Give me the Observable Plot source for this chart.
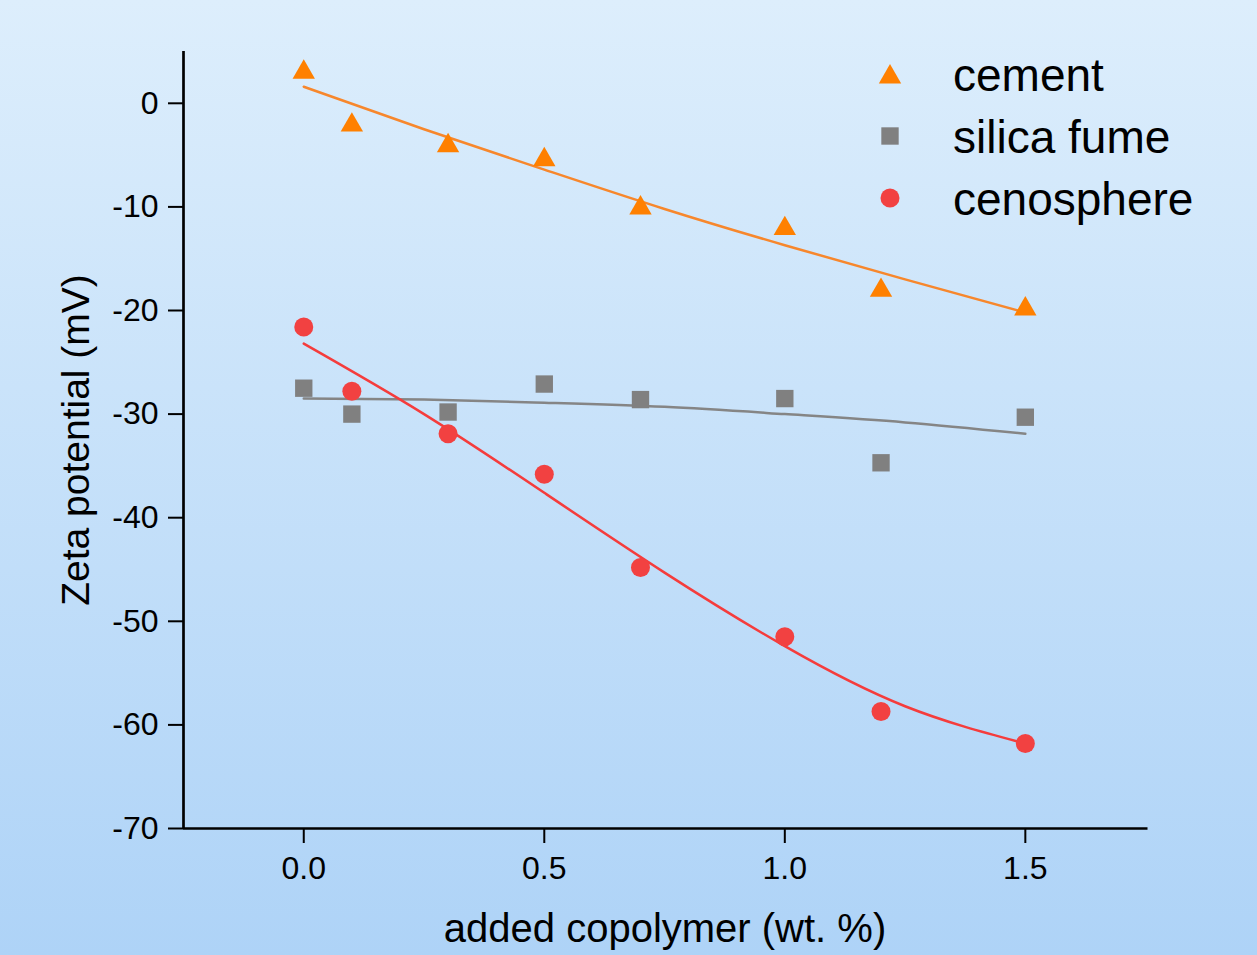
<!DOCTYPE html>
<html>
<head>
<meta charset="utf-8">
<script src="https://cdn.jsdelivr.net/npm/d3@7"></script>
<script src="https://cdn.jsdelivr.net/npm/@observablehq/plot@0.6"></script>
<style>
  html, body { margin: 0; padding: 0; }
  #fig {
    position: relative; width: 1257px; height: 955px; overflow: hidden;
    background: linear-gradient(to bottom, #ddeefc 0%, #aed3f7 100%);
    font-family: "Liberation Sans", Arial, Helvetica, sans-serif; color: #000;
  }
  #fig svg { position: absolute; left: 0; top: 0; }
</style>
</head>
<body>
<div id="fig"></div>
<script>
// ---- data ----
const dosage = [0, 0.1, 0.3, 0.5, 0.7, 1.0, 1.2, 1.5];
const cement = [3.0, -2.1, -4.1, -5.45, -10.1, -12.1, -18.05, -19.85];
const silicaFume = [-27.5, -30.0, -29.8, -27.1, -28.6, -28.5, -34.7, -30.3];
const cenosphere = [-21.6, -27.8, -31.9, -35.8, -44.8, -51.5, -58.7, -61.8];

// fitted trend curves
const fitX = [0, 0.25, 0.5, 0.75, 1.0, 1.25, 1.5];
const cementFit = [1.6, -2.5, -6.4, -10.2, -13.7, -17.0, -20.2];
const silicaFit = [-28.5, -28.6, -28.9, -29.3, -30.0, -30.8, -31.9];
const cenoFit = [-23.2, -30.0, -37.6, -45.3, -52.4, -58.2, -61.8];

const seriesNames = ["cement", "silica fume", "cenosphere"];
const markerColors = ["#ff8000", "#808080", "#f24141"];
const lineColors = ["#f7872c", "#858585", "#f53c3c"];
const symbols = ["triangle", "square", "circle"];
const radii = [8.3, 9.8, 9.5];

const xDomain = [-0.25, 1.755];
const yDomain = [-70, 5];
const xTicks = [0, 0.5, 1.0, 1.5];
const yTicks = [0, -10, -20, -30, -40, -50, -60, -70];
const xTitle = "added copolymer (wt. %)";
const yTitle = "Zeta potential (mV)";

// ---- build tables ----
const pointSets = [cement, silicaFume, cenosphere].map((vals, s) =>
  dosage.map((x, i) => ({x, y: vals[i], s})));
const fitSets = [cementFit, silicaFit, cenoFit].map((vals, s) =>
  fitX.map((x, i) => ({x, y: vals[i], s})));

const W = 1257, H = 955;
const chart = Plot.plot({
  width: W, height: H,
  marginLeft: 183, marginRight: 109.5, marginTop: 51, marginBottom: 127,
  style: {background: "transparent", fontFamily: '"Liberation Sans", Arial, sans-serif', color: "#000"},
  x: {domain: xDomain},
  y: {domain: yDomain},
  marks: [
    ...fitSets.map((d, s) => Plot.line(d, {x: "x", y: "y", stroke: lineColors[s], strokeWidth: 2.5, curve: "natural"})),
    ...pointSets.map((d, s) => Plot.dot(d, {x: "x", y: "y", symbol: symbols[s], r: radii[s], fill: markerColors[s], stroke: "none"})),
    Plot.ruleY([yDomain[0]], {stroke: "#000", strokeWidth: 2.7}),
    Plot.ruleX([xDomain[0]], {stroke: "#000", strokeWidth: 2.7}),
    Plot.axisX({ticks: xTicks, tickFormat: d3.format(".1f"), tickSize: 15, tickPadding: 13,
      fontSize: 32, label: null, stroke: "#000", strokeWidth: 2}),
    Plot.axisY({ticks: yTicks, tickFormat: d => String(d), tickSize: 15, tickPadding: 10,
      fontSize: 32, label: null, stroke: "#000", strokeWidth: 2})
  ]
});
document.getElementById("fig").appendChild(chart);

// axis titles and legend
const svg = d3.select(chart);
svg.append("text").attr("x", 665).attr("y", 942).attr("text-anchor", "middle")
  .attr("font-size", 40).attr("fill", "#000").text(xTitle);
svg.append("text").attr("transform", "translate(89,440) rotate(-90)").attr("text-anchor", "middle")
  .attr("font-size", 39).attr("fill", "#000").text(yTitle);

const symMap = {triangle: d3.symbolTriangle, square: d3.symbolSquare, circle: d3.symbolCircle};
const leg = svg.append("g");
seriesNames.forEach((name, i) => {
  const cy = 74 + i * 62;
  leg.append("path")
    .attr("transform", `translate(890,${cy + (symbols[i] === "triangle" ? 3 : 0)})`)
    .attr("d", d3.symbol(symMap[symbols[i]], Math.PI * radii[i] * radii[i])())
    .attr("fill", markerColors[i]);
  leg.append("text").attr("x", 953).attr("y", cy + 17).attr("font-size", 46)
    .attr("text-anchor", "start").attr("fill", "#000").text(name);
});
</script>
</body>
</html>
